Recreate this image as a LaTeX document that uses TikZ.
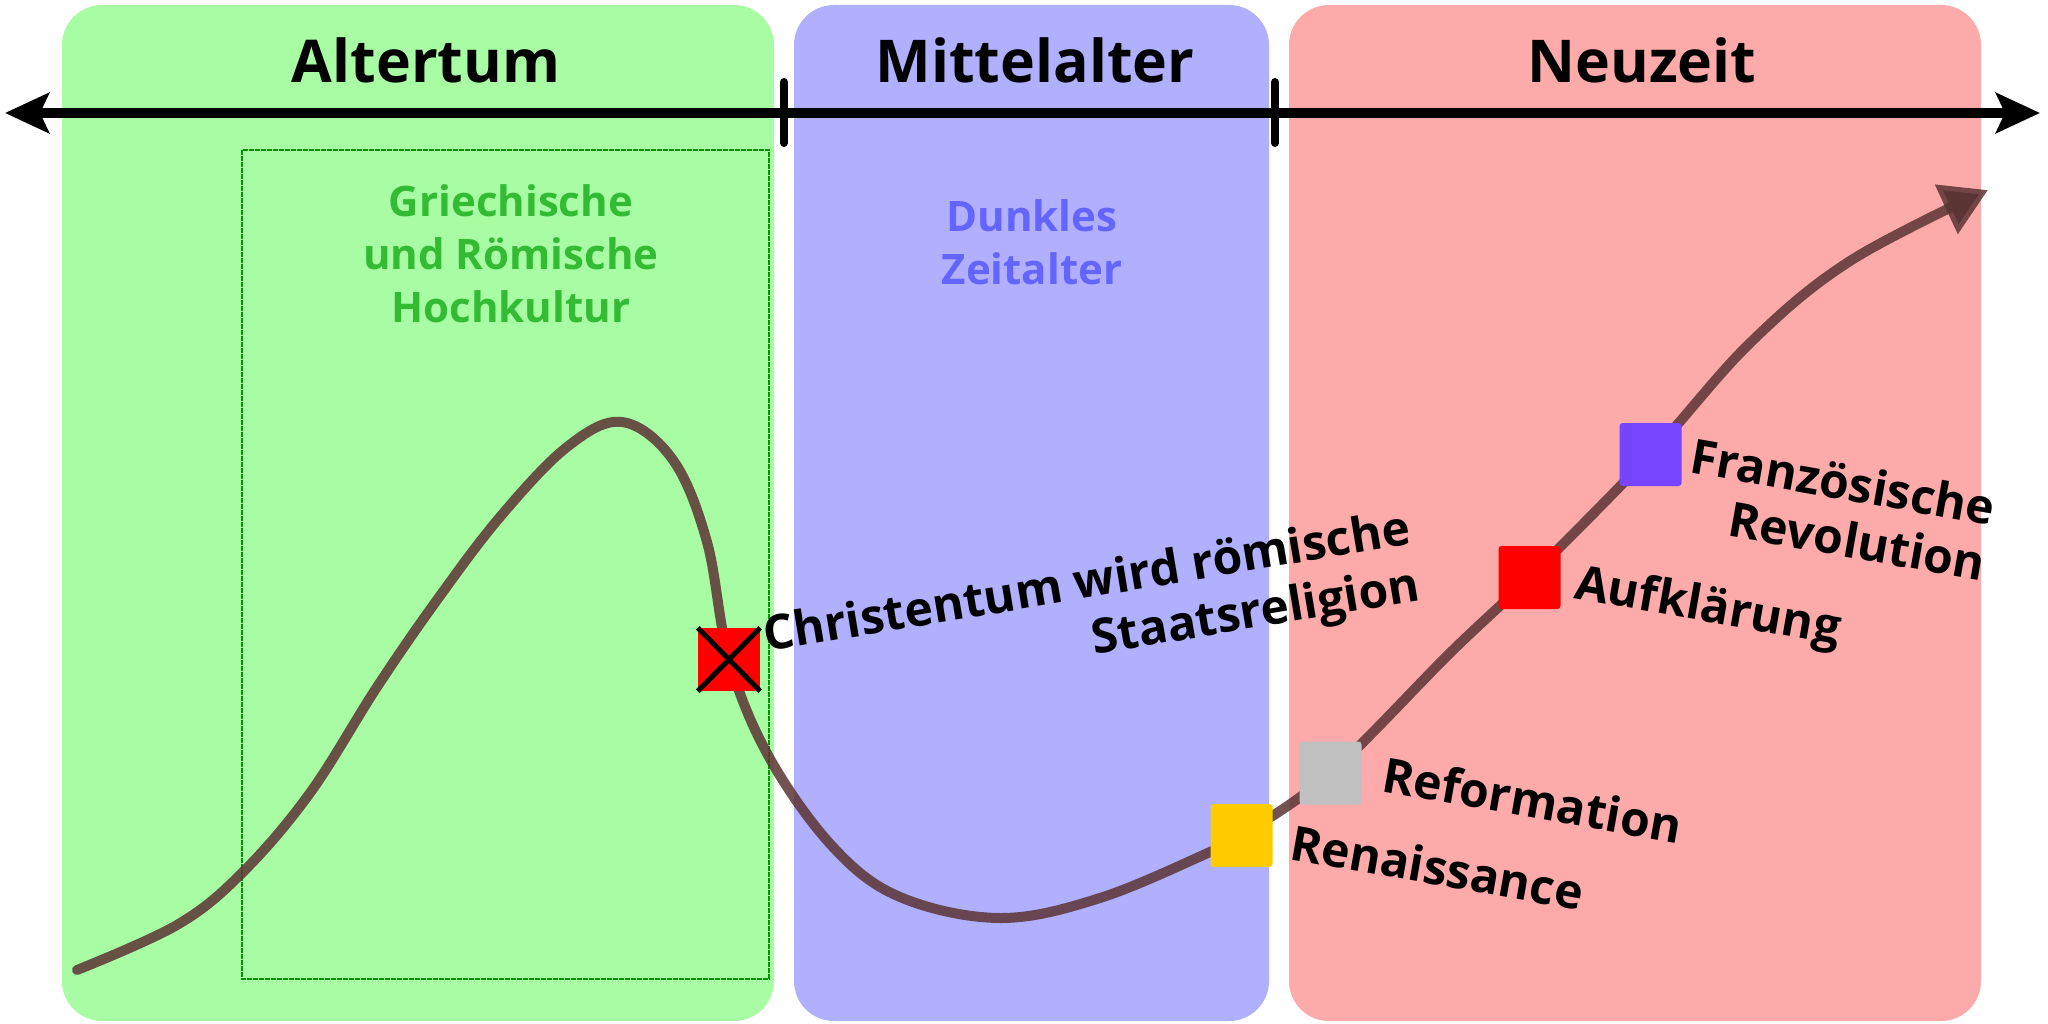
\documentclass[tikz,border=0pt]{standalone}
\usepackage{fontspec}
\setmainfont{Open Sans}
\usetikzlibrary{arrows.meta}
\definecolor{pgreen}{RGB}{168,252,164}
\definecolor{pblue}{RGB}{176,176,255}
\definecolor{pred}{RGB}{253,170,170}
\definecolor{ggreen}{RGB}{51,187,51}
\definecolor{dgreen}{RGB}{0,150,0}
\definecolor{dblue}{RGB}{100,100,255}
\definecolor{curvec}{RGB}{91,52,52}
\definecolor{myyellow}{RGB}{255,204,0}
\definecolor{mygray}{RGB}{192,192,192}
\definecolor{myred}{RGB}{255,0,0}
\definecolor{mypurple}{RGB}{119,68,255}
\begin{document}
\begin{tikzpicture}[x=1pt,y=-1pt,
  panel/.style={fill=#1, rounded corners=40pt},
  title/.style={font=\fontsize{59}{71}\selectfont\bfseries, anchor=base, inner sep=0pt},
  era/.style={font=\fontsize{42}{53}\selectfont\bfseries, align=center, anchor=base, inner sep=0pt, text=#1},
  evlabel/.style={font=\fontsize{48}{56}\selectfont\bfseries, inner sep=0pt, anchor=base west, rotate=-10},
  marker/.style={fill=#1, minimum width=62pt, minimum height=63pt, inner sep=0pt, rounded corners=3pt},
  tickmark/.style={line width=8pt, line cap=round},
  timeaxis/.style={line width=10pt, {Stealth[length=44pt,width=40pt,inset=9pt]}-{Stealth[length=44pt,width=40pt,inset=9pt]}},
  trend/.style={draw=curvec, draw opacity=0.85, line width=10pt, line cap=round, line join=round, -{Triangle[length=46pt,width=52pt]}},
]
\useasboundingbox (0,0) rectangle (2048,1024);
\fill[white] (0,0) rectangle (2048,1024);
% panels
\fill[panel=pgreen] (62,5) rectangle (774,1021);
\fill[panel=pblue] (794,5) rectangle (1269,1021);
\fill[panel=pred] (1289,5) rectangle (1981,1021);
% dashed frame
\draw[dgreen, line width=2.5pt, dash pattern=on 5pt off 1pt] (242,150) rectangle (769,979);
% titles
\node[title] (tAlt) at (426,83) {Altertum};
\node[title] (tMit) at (1035,83) {Mittelalter};
\node[title] (tNeu) at (1642,83) {Neuzeit};
% axis
\coordinate (axL) at (5,113);
\coordinate (axR) at (2040,113);
\draw[timeaxis] (axL) -- (axR);
\coordinate (t1a) at (784,82); \coordinate (t1b) at (784,143);
\coordinate (t2a) at (1275,82); \coordinate (t2b) at (1275,143);
\draw[tickmark] (t1a) -- (t1b);
\draw[tickmark] (t2a) -- (t2b);
% era texts (base = last line)
\node[era=ggreen] (hoch) at (511,323) {Griechische\\und Römische\\Hochkultur};
\node[era=dblue] (dunkel) at (1032,285) {Dunkles\\Zeitalter};
% marker positions
\coordinate (pX) at (729,659.5);
\coordinate (pRen) at (1241.5,835.5);
\coordinate (pRef) at (1330.5,773);
\coordinate (pAuf) at (1529.5,577.5);
\coordinate (pFR) at (1650.5,454.5);
% curve
\draw[trend] plot[smooth, tension=0.6] coordinates {(77,970) (177,925) (242,873) (310,793) (377,687) (437,600) (500,517) (567,447) (622,422) (673,460) (707,542) (pX) (769,757) (833,847) (900,897) (1000,918) (1100,898) (1210,852) (pRen) (pRef) (1450,653) (pAuf) (pFR) (1750,343) (1850,261) (1988,190)};
% markers
\node[marker=myred, rounded corners=0pt] (mX) at (pX) {};
\draw[line width=5pt] (mX.north west) -- (mX.south east);
\draw[line width=5pt] (mX.north east) -- (mX.south west);
\node[marker=myyellow] (mRen) at (pRen) {};
\node[marker=mygray] (mRef) at (pRef) {};
\node[marker=myred] (mAuf) at (pAuf) {};
\node[marker=mypurple] (mFR) at (pFR) {};
% labels (base = last line)
\node[font=\fontsize{48}{57}\selectfont\bfseries, inner sep=0pt, align=right, anchor=base east, rotate=9.5] (lChr) at (1422,600) {Christentum wird römische\\Staatsreligion};
\node[evlabel] (lRen) at (1288,859) {Renaissance};
\node[evlabel] (lRef) at (1380,791) {Reformation};
\node[evlabel] (lAuf) at (1573,598) {Aufklärung};
\node[evlabel, align=right, anchor=base east] (lFR) at (1982,581) {Französische\\Revolution};
\end{tikzpicture}
\end{document}
